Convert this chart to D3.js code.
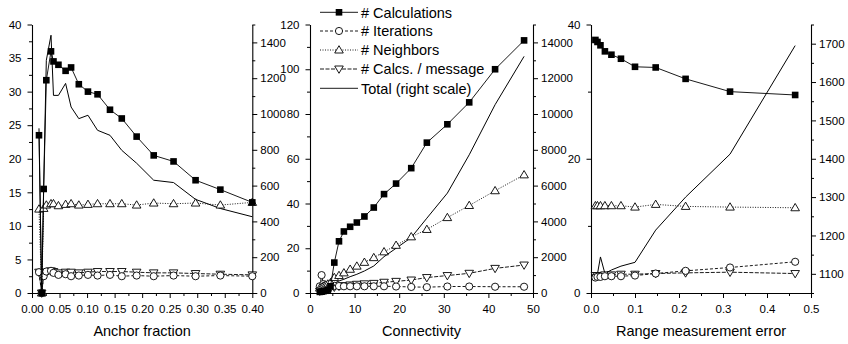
<!DOCTYPE html>
<html>
<head>
<meta charset="utf-8">
<script src="https://cdn.jsdelivr.net/npm/d3@7"></script>
<style>
  html, body { margin: 0; padding: 0; background: #fff; }
  svg { display: block; }
  text { font-family: "Liberation Sans", Arial, Helvetica, sans-serif; fill: #000; }
</style>
</head>
<body>
<svg id="chart" width="848" height="344"></svg>
<script>
// ---- Panel 1: anchor fraction ----
const anchorFraction = [0.0127, 0.0176, 0.0212, 0.026, 0.0345, 0.039, 0.048, 0.061, 0.071, 0.085, 0.1016, 0.119, 0.1416, 0.163, 0.19, 0.221, 0.257, 0.297, 0.342, 0.40];
const anchorCalcs     = [23.5, 0, 15.5, 31.7, 36.0, 34.5, 34.0, 33.1, 33.6, 31.1, 30.0, 29.6, 27.3, 26.0, 23.3, 20.5, 19.6, 16.8, 15.4, 13.5];
const anchorIters     = [3.1, 0, 2.5, 3.2, 3.3, 3.0, 2.7, 2.8, 2.5, 2.6, 2.7, 2.6, 2.7, 2.5, 2.6, 2.5, 2.6, 2.5, 2.6, 2.5];
const anchorNeighbors = [12.5, 0, 12.6, 13.1, 13.3, 13.3, 13.0, 13.2, 13.3, 13.1, 13.2, 13.3, 13.3, 13.3, 13.1, 13.4, 13.3, 13.4, 13.1, 13.5];
const anchorCalcsMsg  = [3.1, 0, 2.6, 3.1, 3.3, 3.2, 3.0, 3.1, 3.1, 3.0, 3.1, 3.2, 3.2, 3.2, 3.1, 3.0, 3.0, 2.9, 2.8, 2.7];
const anchorTotal     = [920, 0, 600, 1300, 1440, 1104, 1104, 1171, 1039, 974, 993, 909, 881, 797, 725, 630, 617, 523, 472, 426];

// ---- Panel 2: connectivity ----
const connectivity   = [2.2, 2.6, 3.0, 3.5, 4.0, 4.6, 5.45, 6.5, 7.6, 9.0, 10.5, 12.2, 14.3, 16.6, 19.3, 22.7, 26.2, 30.8, 35.7, 41.5, 48.0];
const connCalcs      = [0.5, 0.6, 0.8, 1.0, 1.5, 3.0, 13.6, 23.1, 27.5, 29.6, 31.5, 34.2, 38.2, 44.2, 48.9, 55.8, 67.2, 75.4, 85.2, 100.0, 112.9];
const connIters      = [3.0, 8.0, 4.0, 3.5, 3.3, 3.2, 3.2, 3.1, 3.0, 3.0, 3.0, 3.0, 3.0, 3.0, 2.9, 2.7, 2.6, 2.9, 2.9, 2.8, 2.8];
const connNeighbors  = [2.2, 2.6, 3.0, 3.5, 4.0, 4.6, 6.9, 7.8, 9.0, 10.6, 12.0, 13.7, 15.8, 18.4, 21.3, 25.1, 28.4, 33.7, 39.1, 45.7, 52.8];
const connCalcsMsg   = [0.8, 1.0, 1.2, 1.5, 1.8, 2.2, 2.6, 3.0, 3.3, 3.6, 3.9, 4.1, 4.3, 4.8, 5.2, 5.8, 6.9, 7.8, 8.8, 11.0, 12.5];
const connTotal      = [20, 30, 50, 80, 120, 200, 543, 672, 767, 912, 1045, 1230, 1510, 2030, 2500, 3100, 4180, 5580, 7720, 10520, 13220];

// ---- Panel 3: range measurement error ----
const rangeError     = [0.01, 0.0147, 0.0215, 0.0316, 0.0464, 0.0681, 0.1, 0.147, 0.215, 0.316, 0.464];
const rangeCalcs     = [37.7, 37.4, 36.9, 36.0, 35.5, 34.9, 33.7, 33.6, 31.9, 30.0, 29.5];
const rangeIters     = [2.3, 2.4, 2.4, 2.5, 2.5, 2.5, 2.6, 2.9, 3.3, 3.8, 4.65];
const rangeNeighbors = [13.0, 13.0, 13.0, 13.0, 13.0, 13.0, 12.8, 13.2, 12.9, 12.8, 12.7];
const rangeCalcsMsg  = [2.6, 2.6, 2.6, 2.7, 2.7, 2.8, 2.8, 2.9, 3.0, 3.1, 2.9];
const rangeTotal     = [1097, 1100, 1144, 1101, 1110, 1120, 1130, 1214, 1300, 1412, 1695];

// ---- legend and axis titles ----
const seriesLabels = ["# Calculations", "# Iterations", "# Neighbors", "# Calcs. / message", "Total (right scale)"];
const axisTitles = ["Anchor fraction", "Connectivity", "Range measurement error"];

const svg = d3.select("#chart");
svg.append("rect").attr("width", 848).attr("height", 344).attr("fill", "#fff");

const TOP = 24.5, BOTTOM = 293;
const TICK_FONT = 11.5;

// line styles for the four left-scale series
const styles = [
  { dash: null,    marker: "square" },
  { dash: "3,2",   marker: "circle" },
  { dash: "1,1.5", marker: "up" },
  { dash: "4,1.5", marker: "down" }
];

function drawMarker(g, kind, cx, cy) {
  if (kind === "square") {
    g.append("rect").attr("x", cx - 3.3).attr("y", cy - 3.3).attr("width", 6.6).attr("height", 6.6)
      .attr("fill", "#000");
  } else if (kind === "circle") {
    g.append("circle").attr("cx", cx).attr("cy", cy).attr("r", 3.6)
      .attr("fill", "#fff").attr("stroke", "#000").attr("stroke-width", 0.9);
  } else if (kind === "up") {
    g.append("path").attr("d", `M${cx},${cy - 4.3}L${cx + 4.3},${cy + 3}L${cx - 4.3},${cy + 3}Z`)
      .attr("fill", "#fff").attr("stroke", "#000").attr("stroke-width", 0.9);
  } else if (kind === "down") {
    g.append("path").attr("d", `M${cx},${cy + 4.3}L${cx + 4.3},${cy - 3}L${cx - 4.3},${cy - 3}Z`)
      .attr("fill", "#fff").attr("stroke", "#000").attr("stroke-width", 0.9);
  }
}

function styleAxis(g) {
  g.attr("font-size", null).attr("font-family", null);
  g.selectAll("text").attr("font-size", TICK_FONT);
  g.selectAll("path.domain").attr("stroke-width", 1.1);
  g.selectAll("line").attr("stroke-width", 1);
}

function drawPanel(p) {
  const x = d3.scaleLinear().domain(p.xDomain).range(p.xRange);
  const yL = d3.scaleLinear().domain(p.yDomain).range([BOTTOM, TOP]);
  const yR = d3.scaleLinear().domain(p.rDomain).range([BOTTOM, TOP]);
  const g = svg.append("g");

  // minor ticks first, then the labelled axes on top
  g.append("g").attr("transform", `translate(0,${BOTTOM})`)
    .call(d3.axisBottom(x).tickValues(p.xMinor).tickSize(3).tickFormat(""))
    .call(styleAxis).select(".domain").remove();
  g.append("g").attr("transform", `translate(${p.xRange[0]},0)`)
    .call(d3.axisLeft(yL).tickValues(p.yMinor).tickSize(3).tickFormat(""))
    .call(styleAxis).select(".domain").remove();
  g.append("g").attr("transform", `translate(${p.xRange[1]},0)`)
    .call(d3.axisRight(yR).tickValues(p.rMinor).tickSize(3).tickFormat(""))
    .call(styleAxis).select(".domain").remove();

  g.append("g").attr("transform", `translate(0,${BOTTOM})`)
    .call(d3.axisBottom(x).tickValues(p.xTicks).tickSize(5).tickSizeOuter(0).tickPadding(7).tickFormat(p.xFormat))
    .call(styleAxis);
  g.append("g").attr("transform", `translate(${p.xRange[0]},0)`)
    .call(d3.axisLeft(yL).tickValues(p.yTicks).tickSize(4.5).tickSizeOuter(0).tickPadding(6).tickFormat(d3.format("d")))
    .call(styleAxis);
  g.append("g").attr("transform", `translate(${p.xRange[1]},0)`)
    .call(d3.axisRight(yR).tickValues(p.rTicks).tickSize(5).tickSizeOuter(0).tickPadding(3).tickFormat(d3.format("d")))
    .call(styleAxis);

  // axis title
  g.append("text")
    .attr("x", (p.xRange[0] + p.xRange[1]) / 2).attr("y", 336)
    .attr("text-anchor", "middle").attr("font-size", 14.5)
    .text(p.title);

  // total on the right scale
  const lineR = d3.line().x((d, i) => x(p.xs[i])).y(d => yR(d));
  g.append("path").datum(p.total).attr("d", lineR)
    .attr("fill", "none").attr("stroke", "#000").attr("stroke-width", 1);

  // left-scale series, drawn from the back
  const lineL = d3.line().x((d, i) => x(p.xs[i])).y(d => yL(d));
  const order = [3, 1, 2, 0];
  order.forEach(k => {
    const vals = p.series[k];
    const st = styles[k];
    const sg = g.append("g");
    sg.append("path").datum(vals).attr("d", lineL)
      .attr("fill", "none").attr("stroke", "#000").attr("stroke-width", 0.9)
      .attr("stroke-dasharray", st.dash);
    vals.forEach((v, i) => drawMarker(sg, st.marker, x(p.xs[i]), yL(v)));
  });
}

const d3r = (a, b, s) => d3.range(a, b + s / 2, s);

drawPanel({
  xDomain: [0, 0.40], xRange: [32, 252.3],
  yDomain: [0, 40], rDomain: [0, 1500],
  xTicks: d3r(0, 0.40, 0.05), xMinor: d3r(0.025, 0.375, 0.05), xFormat: d3.format(".2f"),
  yTicks: d3r(0, 40, 5), yMinor: d3r(2.5, 37.5, 5),
  rTicks: d3r(0, 1400, 200), rMinor: d3r(100, 1500, 200),
  xs: anchorFraction,
  series: [anchorCalcs, anchorIters, anchorNeighbors, anchorCalcsMsg],
  total: anchorTotal,
  title: axisTitles[0]
});

drawPanel({
  xDomain: [0, 50], xRange: [310, 533],
  yDomain: [0, 120], rDomain: [0, 15000],
  xTicks: d3r(0, 50, 10), xMinor: d3r(5, 45, 10), xFormat: d3.format("d"),
  yTicks: d3r(0, 120, 20), yMinor: d3r(10, 110, 20),
  rTicks: d3r(0, 14000, 2000), rMinor: d3r(1000, 15000, 2000),
  xs: connectivity,
  series: [connCalcs, connIters, connNeighbors, connCalcsMsg],
  total: connTotal,
  title: axisTitles[1]
});

drawPanel({
  xDomain: [0, 0.5], xRange: [591, 811],
  yDomain: [0, 40], rDomain: [1050, 1750],
  xTicks: d3r(0, 0.5, 0.1), xMinor: d3r(0.05, 0.45, 0.1), xFormat: d3.format(".1f"),
  yTicks: [0, 20, 40], yMinor: [10, 30],
  rTicks: d3r(1100, 1700, 100), rMinor: d3r(1050, 1750, 100),
  xs: rangeError,
  series: [rangeCalcs, rangeIters, rangeNeighbors, rangeCalcsMsg],
  total: rangeTotal,
  title: axisTitles[2]
});

// legend in the middle panel
const legend = svg.append("g").attr("transform", "translate(320,0)");
const rowY = [12.3, 31, 50, 69, 88.3];
seriesLabels.forEach((label, i) => {
  const row = legend.append("g");
  row.append("line").attr("x1", 0).attr("x2", 38).attr("y1", rowY[i]).attr("y2", rowY[i])
    .attr("stroke", "#000").attr("stroke-width", 0.9)
    .attr("stroke-dasharray", i < 4 ? styles[i].dash : null);
  if (i < 4) drawMarker(row, styles[i].marker, 19, rowY[i]);
  row.append("text").attr("x", 41).attr("y", rowY[i]).attr("dy", "0.36em")
    .attr("font-size", 14.5).text(label);
});
</script>
</body>
</html>
